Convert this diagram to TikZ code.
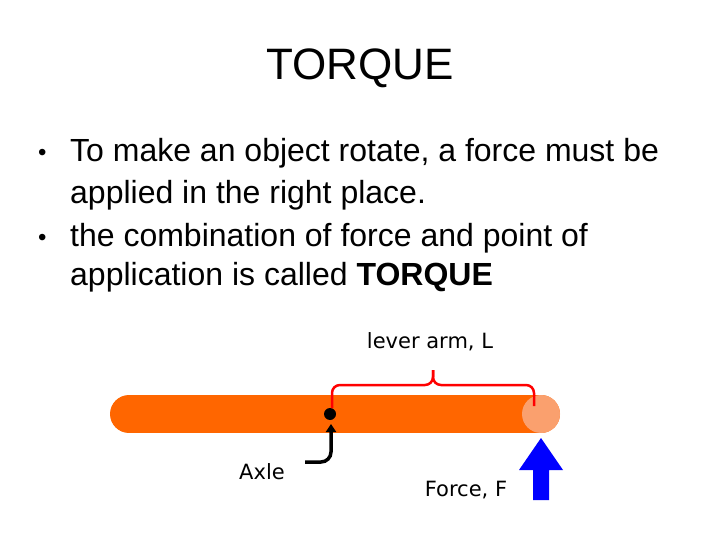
\documentclass[tikz,border=0pt]{standalone}
\usepackage{fontspec}
\setmainfont{Liberation Sans}
\newfontfamily\lab{DejaVu Sans}
\usetikzlibrary{arrows.meta}
\definecolor{bar}{RGB}{255,102,0}
\definecolor{spot}{RGB}{250,160,110}
\definecolor{bluef}{RGB}{0,0,255}
\tikzset{body/.style={anchor=base west,font=\fontsize{32}{36}\selectfont,inner sep=0},
 bul/.style={anchor=base west,font=\fontsize{24}{28}\selectfont,inner sep=0},
 lbl/.style={font=\lab\fontsize{21}{24}\selectfont,inner sep=0}}
\begin{document}
\begin{tikzpicture}[x=1pt,y=-1pt]
\useasboundingbox (0,0) rectangle (720,540);
\node[font=\fontsize{44}{50}\selectfont] (title) at (360,68) {TORQUE};
\node[bul] (b1) at (38,161) {•};
\node[body] (t1) at (70,162) {To make an object rotate, a force must be};
\node[body] (t2) at (70,204) {applied in the right place.};
\node[bul] (b2) at (38,245) {•};
\node[body] (t3) at (70,246) {the combination of force and point of};
\node[body] (t4) at (70,285) {application is called \textbf{TORQUE}};
\draw[bar,line width=38pt,line cap=round] (129,414) -- (541,414);
\fill[spot] (541,414) circle (19);
\fill[black] (330,414) circle (6);
\coordinate (axle) at (330,414);
\coordinate (fpt) at (535,406);
\draw[red,line width=2.5pt,line join=round,rounded corners=8pt] (332,408) -- (332,385) -- (433,385) -- (433,370);
\draw[red,line width=2.5pt,line join=round,rounded corners=8pt] (433,370) -- (433,385) -- (534,385) -- (534,406);
\node[lbl] (lever) at (430,342) {lever arm, L};
\node[lbl] (axlelbl) at (262,472) {Axle};
\node[lbl] (force) at (466,490) {Force, F};
\draw[line width=3.5pt,rounded corners=10pt,-{Triangle[length=8pt,width=10pt]}] (305,462) -- (331,462) -- (331,424);
\fill[bluef] (533,500) -- (533,470) -- (519,470) -- (541,438) -- (563,470) -- (549,470) -- (549,500) -- cycle;
\end{tikzpicture}
\end{document}
